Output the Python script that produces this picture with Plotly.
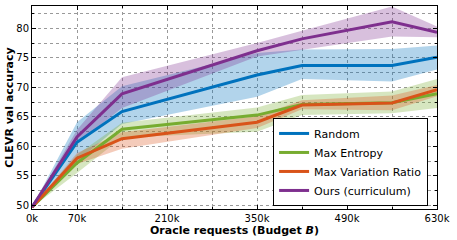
import plotly.graph_objects as go

budget_k = [0, 70, 140, 350, 420, 560, 630]

random_mean = [49.7, 60.7, 65.9, 72.1, 73.7, 73.7, 75.1]
random_low = [49.7, 57.5, 63.8, 68.4, 71.4, 71.0, 73.0]
random_high = [49.7, 64.1, 70.2, 75.8, 76.4, 76.5, 77.1]

entropy_mean = [49.7, 57.2, 62.9, 65.3, 67.1, 67.4, 68.9]
entropy_low = [49.7, 55.5, 61.5, 62.5, 65.3, 65.6, 66.5]
entropy_high = [49.7, 58.6, 64.0, 66.6, 68.7, 69.3, 71.4]

varratio_mean = [49.7, 58.0, 61.3, 64.1, 67.0, 67.35, 69.6]
varratio_low = [49.7, 57.0, 59.6, 63.1, 66.3, 66.1, 68.5]
varratio_high = [49.7, 58.9, 62.4, 65.1, 67.8, 68.6, 70.4]

ours_mean = [49.7, 61.6, 68.9, 76.2, 78.2, 81.1, 79.3]
ours_low = [49.7, 60.5, 66.5, 75.2, 76.4, 78.6, 78.5]
ours_high = [49.7, 62.8, 71.7, 77.5, 79.6, 83.7, 80.3]

x_tickvals = [0, 70, 210, 350, 490, 630]
x_ticktext = ["0k", "70k", "210k", "350k", "490k", "630k"]
y_tickvals = [50, 55, 60, 65, 70, 75, 80]

series = [
    ("Random", random_mean, random_low, random_high, (0, 114, 189)),
    ("Max Entropy", entropy_mean, entropy_low, entropy_high, (119, 172, 48)),
    ("Max Variation Ratio", varratio_mean, varratio_low, varratio_high, (217, 83, 25)),
    ("Ours (curriculum)", ours_mean, ours_low, ours_high, (126, 47, 142)),
]

fig = go.Figure()
for name, m, lo, hi, c in series:
    fig.add_trace(go.Scatter(
        x=budget_k + budget_k[::-1], y=hi + lo[::-1],
        fill="toself", fillcolor=f"rgba({c[0]},{c[1]},{c[2]},0.3)",
        line=dict(width=0), mode="lines", hoverinfo="skip", showlegend=False))
for name, m, lo, hi, c in series:
    fig.add_trace(go.Scatter(
        x=budget_k, y=m, mode="lines", name=name,
        line=dict(color=f"rgb({c[0]},{c[1]},{c[2]})", width=3)))

font = "DejaVu Sans, Arial, sans-serif"
fig.update_layout(
    width=457, height=240,
    margin=dict(l=32, r=20, t=6, b=31, autoexpand=False),
    plot_bgcolor="white", paper_bgcolor="white",
    font=dict(family=font, size=10, color="black"),
    showlegend=True,
    legend=dict(
        x=0.978, xanchor="right", y=0.015, yanchor="bottom",
        bgcolor="white", bordercolor="black", borderwidth=1,
        font=dict(size=11, family=font), tracegroupgap=0,
        itemwidth=30,
    ),
    xaxis=dict(
        range=[0, 630], tickvals=x_tickvals, ticktext=x_ticktext,
        showline=True, linecolor="black", linewidth=1, mirror="allticks",
        ticks="inside", ticklen=4, tickcolor="black",
        showgrid=True, gridcolor="#999999", griddash="dot", gridwidth=1,
        minor=dict(dtick=70, tick0=0, showgrid=True, gridcolor="#999999",
                   griddash="dot", ticks="inside", ticklen=2, tickcolor="black"),
        zeroline=False, tickfont=dict(size=10), automargin=False,
        title=dict(text="<b>Oracle requests (Budget <i>B</i>)</b>",
                   font=dict(size=11), standoff=0),
    ),
    yaxis=dict(
        range=[49.4, 83.77], tickvals=y_tickvals,
        showline=True, linecolor="black", linewidth=1, mirror="allticks",
        ticks="inside", ticklen=4, tickcolor="black",
        showgrid=True, gridcolor="#999999", griddash="dot", gridwidth=1,
        minor=dict(dtick=2.5, tick0=0, showgrid=True, gridcolor="#999999",
                   griddash="dot", ticks="inside", ticklen=2, tickcolor="black"),
        zeroline=False, tickfont=dict(size=10), automargin=False,
        title=dict(text="<b>CLEVR val accuracy</b>", font=dict(size=11), standoff=0),
    ),
)

fig.write_html("out.html", config={"displayModeBar": False},
               post_script="document.body.style.margin='0';document.body.style.overflow='hidden';")
